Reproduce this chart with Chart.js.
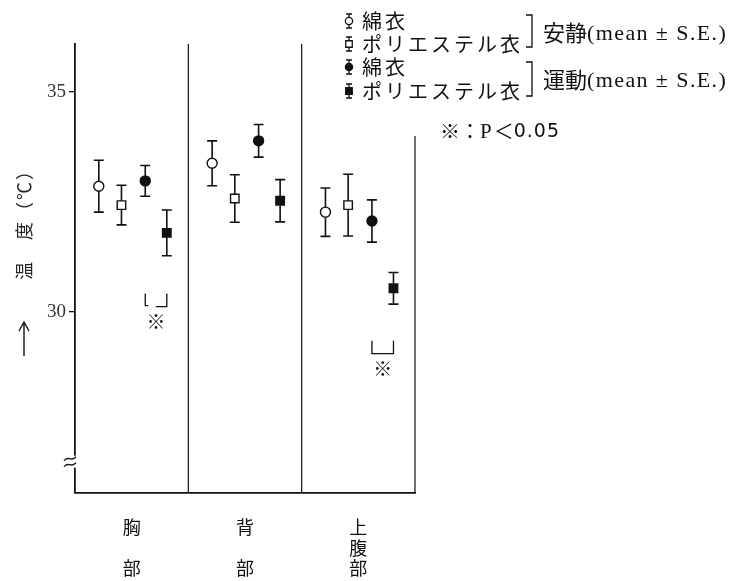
<!DOCTYPE html>
<html>
<head>
<meta charset="utf-8">
<script src="https://cdn.jsdelivr.net/npm/chart.js@4"></script>
<style>
  html, body { margin: 0; padding: 0; background: #fff; }
  #wrap { width: 731px; height: 581px; }
</style>
</head>
<body>
<div id="wrap"><canvas id="tempChart" width="731" height="581"></canvas></div>
<script>
const categories = ['胸部', '背部', '上腹部'];
const tickLabels = [['胸', '', '部'], ['背', '', '部'], ['上', '腹', '部']];
const yTicks = [30, 35];

const seriesNames = ['綿衣', 'ポリエステル衣', '綿衣', 'ポリエステル衣'];
const cottonRest = [32.86, 33.38, 32.27];
const cottonRestSE = [0.59, 0.51, 0.55];
const polyRest = [32.43, 32.58, 32.43];
const polyRestSE = [0.45, 0.54, 0.70];
const cottonEx = [32.98, 33.89, 32.07];
const cottonExSE = [0.35, 0.37, 0.48];
const polyEx = [31.80, 32.53, 30.54];
const polyExSE = [0.52, 0.48, 0.36];

// 運動時 綿衣 vs ポリエステル衣 で有意差のある部位と括弧の高さ(℃)
const sigGroups = [0, 2];
const sigLevels = [30.42, 29.35];

const INK = '#111';
const SERIF = '"Liberation Serif", "Noto Sans CJK JP", serif';
const JP = '"Noto Sans CJK JP", sans-serif';

// where each series sits inside its body-part column
const slot = [0.21, 0.41, 0.62, 0.81];

function points(values, k) {
    return values.map((v, i) => ({ x: i + slot[k], y: v }));
}

const styles = [
    { pointStyle: 'circle', radius: 5, bg: '#fff' },
    { pointStyle: 'rect', radius: 6, bg: '#fff' },
    { pointStyle: 'circle', radius: 5, bg: INK },
    { pointStyle: 'rect', radius: 6, bg: INK }
];
const allValues = [cottonRest, polyRest, cottonEx, polyEx];
const allSE = [cottonRestSE, polyRestSE, cottonExSE, polyExSE];

const datasets = allValues.map((vals, k) => ({
    label: seriesNames[k],
    data: points(vals, k),
    se: allSE[k],
    pointStyle: styles[k].pointStyle,
    pointRadius: styles[k].radius,
    pointHoverRadius: styles[k].radius,
    pointBackgroundColor: styles[k].bg,
    pointBorderColor: INK,
    pointBorderWidth: 1.4,
    showLine: false
}));

function drawErrorBar(ctx, px, top, bot, cap) {
    ctx.beginPath();
    ctx.moveTo(px, top); ctx.lineTo(px, bot);
    ctx.moveTo(px - cap, top); ctx.lineTo(px + cap, top);
    ctx.moveTo(px - cap, bot); ctx.lineTo(px + cap, bot);
    ctx.stroke();
}

const errorBars = {
    id: 'errorBars',
    beforeDatasetsDraw(chart) {
        const { ctx, scales: { x, y } } = chart;
        ctx.save();
        ctx.strokeStyle = INK;
        ctx.lineWidth = 1.6;
        chart.data.datasets.forEach(ds => {
            ds.data.forEach((p, i) => {
                const px = x.getPixelForValue(p.x);
                drawErrorBar(ctx, px, y.getPixelForValue(p.y + ds.se[i]), y.getPixelForValue(p.y - ds.se[i]), 5);
            });
        });
        ctx.restore();
    }
};

const frame = {
    id: 'frame',
    beforeDatasetsDraw(chart) {
        const { ctx, chartArea, scales: { x, y } } = chart;
        ctx.save();
        ctx.strokeStyle = INK;
        ctx.lineWidth = 1.2;
        // column separators
        [1, 2].forEach(v => {
            const px = x.getPixelForValue(v);
            ctx.beginPath();
            ctx.moveTo(px, chartArea.top);
            ctx.lineTo(px, chartArea.bottom);
            ctx.stroke();
        });
        // right edge, only partly drawn
        const rx = x.getPixelForValue(3);
        ctx.beginPath();
        ctx.moveTo(rx, y.getPixelForValue(34.0));
        ctx.lineTo(rx, chartArea.bottom);
        ctx.stroke();

        // significance brackets
        ctx.lineWidth = 1.3;
        sigGroups.forEach((g, n) => {
            const x1 = x.getPixelForValue(g + slot[2]);
            const x2 = x.getPixelForValue(g + slot[3]);
            const t = y.getPixelForValue(sigLevels[n]);
            const b = t + 13;
            ctx.beginPath();
            if (n === 0) {
                ctx.moveTo(x1, t); ctx.lineTo(x1, b - 1); ctx.lineTo(x1 + 3, b - 1);
                ctx.moveTo(x2 - 11, b); ctx.lineTo(x2, b); ctx.lineTo(x2, t);
            } else {
                ctx.moveTo(x1, t); ctx.lineTo(x1, b); ctx.lineTo(x2, b); ctx.lineTo(x2, t);
            }
            ctx.stroke();
            ctx.fillStyle = INK;
            ctx.font = '19px ' + JP;
            ctx.textAlign = 'center';
            ctx.textBaseline = 'middle';
            ctx.fillText('※', (x1 + x2) / 2, b + 15);
        });
        ctx.restore();
    },
    afterDraw(chart) {
        const { ctx, scales: { y } } = chart;
        const ax = y.right;
        const by = y.getPixelForValue(26.6);
        ctx.save();
        // axis break
        ctx.fillStyle = '#fff';
        ctx.fillRect(ax - 2, by - 6, 4, 12);
        ctx.strokeStyle = INK;
        ctx.lineWidth = 1.3;
        [-3, 3].forEach(d => {
            ctx.beginPath();
            ctx.moveTo(ax - 11, by + d + 2);
            ctx.bezierCurveTo(ax - 7, by + d - 4, ax - 4, by + d + 4, ax + 1, by + d - 2);
            ctx.stroke();
        });

        // y axis title (rotated) and arrow
        ctx.fillStyle = '#222';
        ctx.save();
        ctx.translate(24, 220);
        ctx.rotate(-Math.PI / 2);
        ctx.font = '18px ' + JP;
        ctx.letterSpacing = '2px';
        ctx.textAlign = 'center';
        ctx.textBaseline = 'middle';
        ctx.fillText('温　度（℃）', 0, 0);
        ctx.restore();

        ctx.strokeStyle = '#222';
        ctx.lineWidth = 1.5;
        ctx.beginPath();
        ctx.moveTo(24, 356); ctx.lineTo(24, 323);
        ctx.moveTo(19, 331); ctx.lineTo(24, 322); ctx.lineTo(29, 331);
        ctx.stroke();
        ctx.restore();
    }
};

const legendBox = {
    id: 'legendBox',
    afterDraw(chart) {
        const { ctx } = chart;
        const mx = 349;
        const rows = [21, 44, 67, 91];
        ctx.save();
        ctx.strokeStyle = INK;
        ctx.lineWidth = 1.3;
        rows.forEach((ry, k) => {
            drawErrorBar(ctx, mx, ry - 7, ry + 7, 3);
            ctx.fillStyle = styles[k].bg;
            Chart.helpers.drawPoint(ctx, {
                pointStyle: styles[k].pointStyle,
                radius: styles[k].pointStyle === 'rect' ? 4.6 : 3.6,
                rotation: 0,
                borderWidth: 1.3
            }, mx, ry);
        });

        ctx.fillStyle = '#111';
        ctx.font = '20px ' + JP;
        ctx.letterSpacing = '3px';
        ctx.textAlign = 'left';
        ctx.textBaseline = 'middle';
        rows.forEach((ry, k) => ctx.fillText(seriesNames[k], 362, ry));
        ctx.letterSpacing = '0px';

        // brackets
        [[15, 47], [62, 96]].forEach(([t, b]) => {
            ctx.beginPath();
            ctx.moveTo(526, t); ctx.lineTo(532, t); ctx.lineTo(532, b); ctx.lineTo(526, b);
            ctx.stroke();
        });

        const label = (jp, yy) => {
            let xx = 543;
            ctx.font = '22px ' + JP;
            ctx.fillText(jp, xx, yy);
            xx += ctx.measureText(jp).width;
            ctx.font = '22px ' + SERIF;
            ctx.letterSpacing = '1.4px';
            ctx.fillText('(mean ± S.E.)', xx, yy + 1);
            ctx.letterSpacing = '0px';
        };
        label('安静', 33);
        label('運動', 80);

        let px = 440;
        const py = 131;
        ctx.font = '20px ' + JP;
        ctx.fillText('※：', px, py);
        px += ctx.measureText('※：').width;
        ctx.font = '21px ' + SERIF;
        ctx.fillText('P', px, py + 1);
        px += ctx.measureText('P').width + 2;
        ctx.font = '20px ' + JP;
        ctx.fillText('＜', px, py);
        px += ctx.measureText('＜').width;
        ctx.font = '19px "DejaVu Sans", sans-serif';
        ctx.letterSpacing = '1px';
        ctx.fillText('0.05', px, py + 1);
        ctx.restore();
    }
};

new Chart(document.getElementById('tempChart'), {
    type: 'scatter',
    data: { datasets },
    options: {
        responsive: false,
        animation: false,
        events: [],
        layout: { padding: { top: 44, right: 316, left: 0, bottom: 0 } },
        plugins: { legend: { display: false }, tooltip: { enabled: false } },
        scales: {
            x: {
                type: 'linear',
                min: 0,
                max: 3,
                afterBuildTicks: s => { s.ticks = categories.map((c, i) => ({ value: i + 0.5 })); },
                afterFit: s => { s.height = 88; },
                grid: { display: false, drawTicks: false },
                border: { display: true, color: INK, width: 1.8 },
                ticks: {
                    autoSkip: false,
                    maxRotation: 0,
                    padding: 24,
                    color: '#111',
                    font: { family: JP, size: 18, lineHeight: 1.14 },
                    callback: (v, i) => tickLabels[i]
                }
            },
            y: {
                min: 25.89,
                max: 36.09,
                afterBuildTicks: s => { s.ticks = yTicks.map(v => ({ value: v })); },
                afterFit: s => { s.width = 75; },
                grid: { drawOnChartArea: false, drawTicks: true, tickLength: 6, color: INK, lineWidth: 1.3 },
                border: { display: true, color: INK, width: 1.8 },
                ticks: {
                    padding: 3,
                    color: '#333',
                    font: { family: SERIF, size: 19 }
                }
            }
        }
    },
    plugins: [frame, errorBars, legendBox]
});
</script>
</body>
</html>
